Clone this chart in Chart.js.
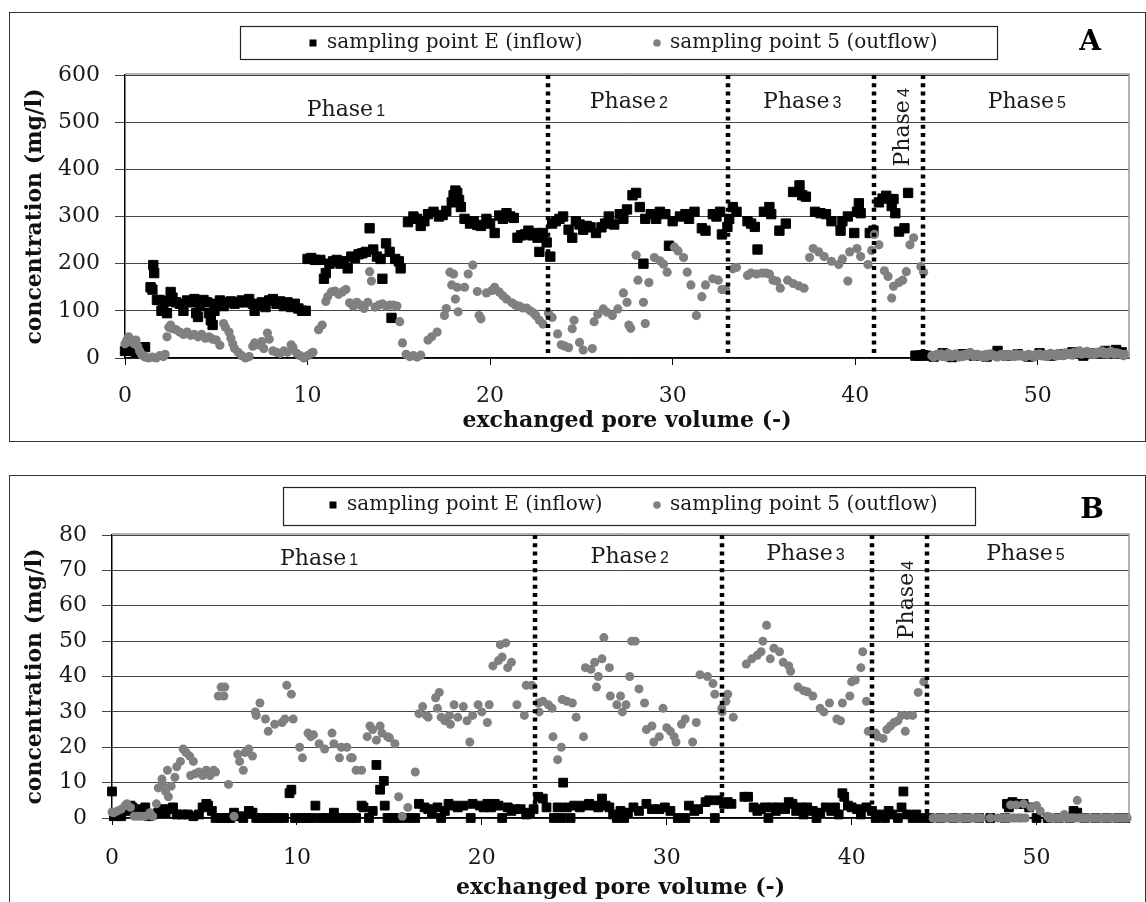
<!DOCTYPE html>
<html>
<head>
<meta charset="utf-8">
<script src="https://cdn.jsdelivr.net/npm/chart.js@4"></script>
<style>
body { margin: 0; background: #fff; }
.panel { position: absolute; left: 9px; width: 1135px; border: 1px solid #333; }
#pa { top: 12px; height: 428px; }
#pb { top: 475px; height: 432px; }
canvas { display: block; }
</style>
</head>
<body>
<div class="panel" id="pa"><canvas id="ca" width="1135" height="428"></canvas></div>
<div class="panel" id="pb"><canvas id="cb" width="1135" height="432"></canvas></div>
<script>
// series labels and phase names
const legendLabels = ['sampling point E (inflow)', 'sampling point 5 (outflow)'];
const phaseNums = ['1', '2', '3', '4', '5'];

// phase boundaries (exchanged pore volume)
const aPhaseEdges = [23.15, 33.06, 41.05, 43.73];
const bPhaseEdges = [22.86, 32.97, 41.08, 44.1];

// panel A concentrations (mg/l), [pore volume, value]
const aInflow = [
  [0.0,15],[0.1,20],[0.2,15],[0.4,18],[0.6,12],[1.1,23],[1.4,150],[1.5,145],[1.55,197],[1.6,180],[1.75,123],
  [1.9,123],[2.0,100],[2.1,110],[2.3,95],[2.4,120],[2.5,140],[2.6,128],[2.8,118],[3.0,115],[3.2,100],[3.4,122],
  [3.6,118],[3.8,125],[3.9,95],[4.0,87],[4.1,110],[4.3,123],[4.5,118],[4.6,95],[4.7,80],[4.8,70],[4.9,100],
  [5.0,115],[5.2,122],[5.4,110],[5.6,118],[5.8,120],[6.0,115],[6.2,118],[6.4,122],[6.6,118],[6.8,125],[7.0,115],
  [7.1,100],[7.3,112],[7.5,118],[7.7,108],[7.9,122],[8.1,125],[8.3,115],[8.5,120],[8.7,110],[8.9,118],[9.1,108],
  [9.3,115],[9.5,105],[9.7,100],[9.9,100],
  [10.0,210],[10.2,212],[10.4,208],[10.7,208],[10.9,168],[11.0,180],[11.2,200],[11.4,205],[11.6,208],[11.8,200],
  [12.0,205],[12.2,190],[12.4,215],[12.6,212],[12.8,220],[13.0,222],[13.2,225],[13.4,275],[13.6,230],[13.8,215],
  [14.0,210],[14.1,168],[14.3,243],[14.5,225],[14.6,85],[14.8,210],[15.0,205],[15.1,190],
  [15.5,288],[15.8,300],[16.0,295],[16.2,280],[16.4,290],[16.6,305],[16.9,310],[17.2,300],[17.4,303],[17.6,312],
  [17.9,330],[18.0,345],[18.1,355],[18.2,350],[18.3,335],[18.4,320],[18.6,295],[18.9,285],[19.1,290],[19.3,282],
  [19.5,280],[19.8,295],[20.0,285],[20.25,265],[20.5,302],[20.7,295],[20.9,307],[21.1,300],[21.3,297],[21.5,255],
  [21.7,260],[21.9,262],[22.1,270],[22.3,260],[22.5,265],[22.6,255],[22.7,225],[22.9,265],[23.1,245],[23.3,215],
  [23.4,285],[23.6,290],[23.8,295],[24.0,300],[24.3,272],[24.5,255],[24.7,290],[24.9,283],[25.1,272],[25.3,280],
  [25.5,277],[25.8,265],[26.1,277],[26.3,285],[26.5,300],[26.8,283],[27.1,305],[27.3,295],[27.5,315],[27.8,345],
  [28.0,350],[28.2,320],[28.4,200],[28.5,295],[28.8,305],[29.1,295],[29.3,310],[29.6,305],[29.8,238],[30.0,290],
  [30.4,300],[30.7,305],[30.9,295],[31.2,310],[31.6,275],[31.8,270],[32.2,305],[32.4,300],[32.6,310],[32.7,262],
  [33.0,278],[33.1,295],
  [33.3,320],[33.5,310],[34.1,290],[34.3,285],[34.5,278],[34.65,230],[35.0,310],[35.3,320],[35.4,305],[35.85,270],
  [36.2,285],[36.6,352],[36.95,366],[37.1,345],[37.3,342],[37.8,310],[38.1,307],[38.4,305],[38.7,290],[39.2,270],
  [39.3,290],[39.6,300],[39.95,265],[40.1,310],[40.2,328],[40.3,307],[40.8,265],[41.0,270],
  [41.3,330],[41.5,338],[41.7,344],[42.0,322],[42.1,337],[42.2,307],[42.4,268],[42.7,275],[42.9,350],
  [43.3,5],[43.5,5],[43.7,6],[43.9,5],[44.3,3],[44.8,10],[45.3,2],[45.9,8],[46.5,5],[47.2,3],[47.8,15],[48.3,5],
  [48.9,8],[49.5,3],[50.1,10],[50.7,5],[51.3,8],[51.9,12],[52.5,5],[53.1,10],[53.7,15],[54.3,17],[54.6,12]
];
const aOutflow = [
  [0.0,30],[0.1,38],[0.2,45],[0.3,40],[0.4,33],[0.5,30],[0.6,38],[0.7,25],[0.8,15],[0.9,8],[1.0,5],[1.1,2],
  [1.3,0],[1.5,2],[1.7,0],[1.9,5],[2.1,3],[2.2,8],
  [2.3,45],[2.4,65],[2.5,70],[2.6,62],[2.8,60],[3.0,55],[3.2,50],[3.4,55],[3.6,48],[3.8,50],[4.0,45],[4.2,50],
  [4.4,42],[4.6,45],[4.8,40],[5.0,38],[5.2,27],
  [5.4,73],[5.5,65],[5.7,55],[5.8,42],[5.9,30],[6.0,20],[6.2,12],[6.4,5],[6.6,0],[6.8,3],
  [7.0,25],[7.1,32],[7.3,28],[7.5,35],[7.6,20],[7.8,53],[7.9,40],
  [8.1,15],[8.3,12],[8.5,10],[8.7,15],[8.9,12],[9.1,28],[9.2,22],[9.4,10],[9.6,5],[9.8,0],[10.0,5],[10.2,10],
  [10.3,12],[10.6,60],[10.8,70],[11.0,120],[11.1,130],
  [11.3,140],[11.5,142],[11.7,135],[11.9,140],[12.1,145],[12.3,117],[12.5,110],[12.7,118],[12.9,112],[13.1,105],
  [13.3,118],[13.4,183],[13.5,163],[13.7,108],[13.9,112],[14.1,115],[14.3,110],[14.5,112],[14.7,112],[14.9,110],
  [15.05,77],[15.2,32],[15.4,8],[15.6,3],[15.8,5],[16.0,2],[16.2,6],[16.6,38],[16.8,45],[17.1,55],[17.5,90],
  [17.6,105],[17.8,182],[18.0,178],[17.9,155],[18.2,150],[18.1,125],[18.25,98],[18.6,150],[18.8,178],[19.05,197],
  [19.3,141],[19.4,90],[19.5,83],[19.8,138],[20.1,143],[20.25,150],[20.5,140],[20.7,132],[20.9,125],[21.2,117],
  [21.4,112],[21.6,110],[21.8,106],[22.0,106],[22.2,100],[22.4,95],[22.5,90],[22.7,80],[22.9,72],
  [23.2,95],[23.4,86],[23.7,51],[23.9,28],[24.1,25],[24.3,22],[24.5,62],[24.6,80],[24.9,33],[25.1,17],[25.6,20],
  [25.7,77],[25.9,93],[26.2,104],[26.4,97],[26.7,90],[27.0,104],[27.3,138],[27.5,118],[27.6,70],[27.7,63],
  [28.0,218],[28.1,165],[28.4,118],[28.5,73],[28.7,160],[29.0,213],[29.3,206],[29.5,199],[29.7,182],[30.1,235],
  [30.3,227],[30.6,213],[30.8,182],[31.0,155],[31.3,90],[31.6,130],[31.8,155],[32.2,168],[32.5,165],[32.7,145],
  [32.9,145],
  [33.3,189],[33.5,192],[34.1,175],[34.3,180],[34.6,178],[34.9,180],[35.1,180],[35.3,178],[35.5,165],[35.7,163],
  [35.9,148],[36.3,165],[36.6,158],[36.9,153],[37.2,148],[37.5,213],[37.7,232],[38.0,225],[38.3,215],[38.7,205],
  [39.1,198],[39.3,210],[39.6,163],[39.7,225],[40.1,232],[40.3,215],[40.7,198],[40.9,228],
  [41.05,262],[41.3,240],[41.6,185],[41.8,173],[42.0,127],[42.1,152],[42.4,160],[42.6,165],[42.8,183],[43.0,240],
  [43.2,255],[43.6,194],[43.75,182],
  [44.2,5],[44.3,2],[44.4,6],[44.5,8],[44.6,4],[44.7,9],[44.8,3],[44.9,6],[45.0,2],[45.1,10],[45.2,7],[45.3,3],
  [45.4,5],[45.5,9],[45.6,4],[45.7,2],[45.8,6],[45.9,3],[46.0,8],[46.1,5],[46.2,9],[46.3,12],[46.4,7],[46.5,3],
  [46.6,5],[46.7,8],[46.8,4],[46.9,3],[47.0,6],[47.1,2],[47.2,8],[47.3,4],[47.4,9],[47.5,5],[47.6,6],[47.7,3],
  [47.8,2],[47.9,5],[48.0,8],[48.1,6],[48.2,3],[48.3,5],[48.4,8],[48.5,4],[48.6,6],[48.7,3],[48.8,9],[48.9,4],
  [49.0,5],[49.1,7],[49.2,3],[49.3,2],[49.4,5],[49.5,8],[49.6,6],[49.7,4],[49.8,2],[49.9,8],[50.0,6],[50.1,9],
  [50.2,5],[50.3,4],[50.4,7],[50.5,3],[50.6,5],[50.7,10],[50.8,8],[50.9,6],[51.0,4],[51.1,10],[51.2,8],[51.3,6],
  [51.4,5],[51.5,11],[51.6,7],[51.7,8],[51.8,10],[51.9,6],[52.0,12],[52.1,9],[52.2,13],[52.3,15],[52.4,8],
  [52.5,12],[52.6,10],[52.7,14],[52.8,9],[52.9,8],[53.0,11],[53.1,7],[53.2,12],[53.3,10],[53.4,13],[53.5,15],
  [53.6,9],[53.7,12],[53.8,8],[53.9,10],[54.0,14],[54.1,12],[54.2,8],[54.3,11],[54.4,10],[54.5,9],[54.6,7],
  [54.7,5],[54.8,8]
];

// panel B concentrations (mg/l)
const bInflow = [
  [0,7.5],[0.1,0.5],[0.3,1],[0.5,0.5],[0.8,2],[1.0,3.5],[1.1,3],[1.3,1],[1.6,2.5],[1.8,3],[2.0,0.5],[2.2,1],
  [2.5,1.5],[2.7,2.5],[2.9,1.5],[3.1,2.5],[3.3,3],[3.5,1],[3.8,1],[4.1,1],[4.4,0.5],[4.7,1],[4.9,3],[5.1,4],
  [5.2,3.5],[5.4,2],[5.6,0],[5.9,0],[6.2,0],[6.4,0],[6.6,1.5],[6.9,0.5],[7.1,0],[7.4,2],[7.6,1.5],[7.8,0],
  [8.1,0],[8.4,0],[8.7,0],[9.0,0],[9.3,0],[9.6,7],[9.7,8],[9.9,0],[10.2,0],[10.5,0],[10.8,0],[11.0,3.5],
  [11.3,0],[11.6,0],[11.9,0],[12.0,1.5],[12.3,0],[12.6,0],[12.9,0],[13.2,0],[13.5,3.5],[13.6,3],[13.9,0],
  [14.1,2],[14.3,15],[14.5,8],[14.7,10.5],[14.75,3.5],[14.9,0],[15.2,0],[15.5,0],[16.0,0],
  [16.4,0],[16.6,4],[16.9,3],[17.1,2.5],[17.3,1.5],[17.6,3],[17.8,0],[18.0,2],[18.2,4],[18.5,3.5],[18.7,3],
  [19.0,3.5],[19.4,0],[19.5,4],[19.9,3.5],[20.1,3],[20.3,4],[20.5,3],[20.7,4],[20.9,3.5],[21.1,0],[21.4,3],
  [21.6,2],[21.8,2.5],[22.1,2.5],[22.4,1],[22.6,1.5],[22.8,2.5],
  [23.05,6],[23.3,5.5],[23.5,3],[23.9,0],[24.1,3],[24.3,0],[24.4,10],[24.6,3],[24.8,0],[25.0,3.5],[25.3,3],
  [25.5,3.5],[25.8,4],[26.0,3.5],[26.3,3],[26.5,5.5],[26.7,3.5],[26.9,3],[27.1,1],[27.3,0],[27.5,2],[27.7,0],
  [27.9,1.5],[28.2,3],[28.5,2],[28.9,4],[29.2,2.5],[29.6,2.5],[29.9,3],[30.2,2],[30.6,0],[31.0,0],[31.2,3.5],
  [31.5,2],[31.7,2.5],[32.1,4.5],[32.3,5],[32.6,0],[32.8,5],[33.1,4],[33.3,4.5],[33.5,4],
  [34.2,6],[34.4,6],[34.7,3],[34.9,2],[35.1,2.5],[35.3,3],[35.5,0],[35.7,3],[35.9,2],[36.1,3],[36.4,2.5],
  [36.6,4.5],[36.8,4],[37.0,2],[37.2,3],[37.4,1],[37.6,3],[37.9,2],[38.1,0],[38.3,1.5],[38.6,3],[38.9,2],
  [39.1,3],[39.3,1],[39.5,7],[39.6,6],[39.8,3.5],[40.0,3],[40.3,2.5],[40.5,1],[40.8,3],
  [41.1,2],[41.3,0],[41.5,1],[41.8,0],[42.0,2],[42.2,1],[42.5,0],[42.7,3],[42.8,7.5],[43.0,1],[43.3,0],
  [43.5,1],[43.8,0],
  [44.2,0],[44.8,0],[45.5,0],[46.2,0],[46.9,0],[47.5,0],[48.3,0],[48.4,4],[48.5,3],[48.7,4.5],[49.0,4],
  [49.3,4],[49.6,3],[50.0,0],[50.6,0],[51.2,0],[51.8,0],[52.0,2],[52.2,1.5],[52.6,0],[53.2,0],[53.8,0],
  [54.4,0],[54.8,0]
];
const bOutflow = [
  [0,1.7],[0.1,1.5],[0.3,2],[0.5,2.5],[0.7,3.5],[0.8,4],[1.0,3],[1.2,0.5],[1.4,0.5],[1.6,0.5],[1.8,0.5],
  [2.05,1.5],[2.2,0.5],[2.4,4],[2.5,8.5],[2.7,11],[2.75,9.5],[2.9,7.5],[3.0,13.5],[3.05,6],[3.2,9],[3.4,11.5],
  [3.5,14.5],[3.7,16],[3.85,19.5],[4.0,18.5],[4.2,17.5],[4.4,16],[4.25,12],[4.5,12.5],[4.7,13],[4.9,12],
  [5.1,13.5],[5.3,12],[5.5,13.5],[5.6,13],[5.75,34.5],[5.9,37],[6.1,37],[6.05,34.5],[6.3,9.5],[6.6,0.5],
  [6.8,18],[6.9,16],[7.1,13.5],[7.2,18.5],[7.4,19.5],[7.6,17.5],[7.75,30],[7.8,29],[8.0,32.5],[8.3,28],
  [8.45,24.5],[8.8,26.5],[9.2,27],[9.35,28],[9.45,37.5],[9.7,35],[9.8,28],[10.15,20],[10.3,17],[10.6,24],
  [10.75,23],[10.9,23.5],[11.2,21],[11.5,19.5],[11.9,24],[12.0,21],[12.3,17],[12.4,20],[12.7,20],[12.9,17],
  [13.0,17],[13.2,13.5],[13.5,13.5],[13.8,23],[13.95,26],[14.1,25],[14.3,22],[14.5,26],[14.6,24],[14.9,23],
  [15.0,22.7],[15.3,21],[15.5,6],[15.7,0.5],[16.0,3],[16.4,13],[16.6,29.5],[16.8,31.5],[17.0,29],[17.1,28.5],
  [17.5,34],[17.6,31],[17.7,35.5],[17.8,28.5],[18.0,27.5],[18.25,29],[18.3,26.5],[18.5,32],[18.7,28.5],
  [19.0,31.5],[19.2,27.5],[19.35,21.5],[19.5,29],[19.8,32],[20.0,30],[20.3,27],[20.4,32],[20.6,43],[20.9,44.5],
  [21.0,49],[21.1,45.5],[21.3,49.5],[21.4,42.5],[21.6,44],[21.9,32],[22.3,29],[22.4,37.5],[22.7,37.5],
  [23.05,32.5],[23.1,30],[23.3,33],[23.6,32],[23.8,31],[23.85,23],[24.1,16.5],[24.3,20],[24.35,33.5],[24.6,33],
  [24.9,32.5],[25.1,28.5],[25.5,23],[25.6,42.5],[25.9,42],[26.1,44],[26.2,37],[26.3,40],[26.5,45],[26.6,51],
  [26.9,42.5],[26.95,34.5],[27.3,32],[27.5,34.5],[27.6,30],[27.8,32],[28.0,40],[28.1,50],[28.3,50],[28.5,36.5],
  [28.8,32.5],[28.9,25],[29.2,26],[29.3,21.5],[29.6,23],[29.8,31],[30.0,25.5],[30.2,24.5],[30.4,23],[30.5,21.5],
  [30.8,26.5],[31.0,28],[31.4,21.5],[31.6,27],[31.8,40.5],[32.2,40],[32.5,38],[32.6,35],[32.97,31],[33.0,30],
  [33.2,33],[33.3,35],[33.6,28.5],
  [34.3,43.5],[34.6,45],[34.9,46],[35.1,47],[35.4,54.5],[35.2,50],[35.6,45],[35.8,48],[36.1,47],[36.3,44],
  [36.6,43],[36.7,41.5],[37.1,37],[37.4,36],[37.6,35.7],[37.9,34.5],[38.3,31],[38.5,30],[38.8,32.5],[39.2,28],
  [39.4,27.5],[39.5,32.5],[39.9,34.5],[40.0,38.5],[40.2,39],[40.5,42.5],[40.6,47],[40.8,33],[40.9,24.5],
  [41.3,24],[41.4,23],[41.7,22.5],[41.9,25],[42.1,26],[42.3,27],[42.5,27.5],[42.7,29],[42.9,24.5],[43.0,29],
  [43.3,29],[43.6,35.5],[43.9,38.5],
  [44.4,0],[44.5,0],[44.6,0],[44.7,0],[44.8,0],[44.9,0],[45.0,0],[45.1,0],[45.2,0],[45.3,0],[45.4,0],[45.5,0],
  [45.6,0],[45.7,0],[45.8,0],[45.9,0],[46.0,0],[46.1,0],[46.2,0],[46.3,0],[46.4,0],[46.5,0],[46.6,0],[46.7,0],
  [46.8,0],[46.9,0],[47.0,0],[47.5,0],[47.9,0],[48.1,0],[48.2,0],[48.3,0],[48.4,0],[48.5,0],[48.6,3.7],
  [48.7,0],[48.8,0],[48.9,3.7],[49.0,0],[49.1,0],[49.2,0],[49.3,4],[49.4,0],[49.7,3],[50.0,3.5],[50.2,2],
  [50.6,0.5],[50.7,0],[50.8,0],[50.9,0],[51.0,0],[51.1,0],[51.2,0],[51.3,0],[51.4,0],[51.5,1],[51.6,0],
  [51.7,0],[51.8,0],[51.9,0],[52.0,0],[52.1,0],[52.2,5],[52.3,0],[52.4,0],[52.5,0],[52.6,0],[52.7,0],
  [52.8,0],[52.9,0],[53.0,0],[53.1,0],[53.2,0],[53.3,0],[53.4,0],[53.5,0],[53.6,0],[53.7,0],[53.8,0],
  [53.9,0],[54.0,0],[54.1,0],[54.2,0],[54.3,0],[54.4,0],[54.5,0],[54.6,0],[54.7,0],[54.8,0],[54.9,0]
];

const SERIF = '"DejaVu Serif", serif';
Chart.defaults.font.family = SERIF;
Chart.defaults.color = '#1a1a1a';

// draws plot frame, phase separators, phase labels, boxed legend and panel letter
const decor = {
  id: 'decor',
  afterDatasetsDraw(chart, args, o) {
    const {ctx, chartArea: a, scales: {x, y}} = chart;
    ctx.save();
    ctx.strokeStyle = '#9a9a9a';
    ctx.lineWidth = 1.5;
    ctx.beginPath();
    ctx.moveTo(a.left, a.top - 1);
    ctx.lineTo(a.right, a.top - 1);
    ctx.lineTo(a.right, a.bottom);
    ctx.stroke();

    ctx.strokeStyle = '#000';
    ctx.lineWidth = 4.5;
    ctx.setLineDash([4, 4.3]);
    o.edges.forEach(v => {
      const px = Math.round(x.getPixelForValue(v));
      ctx.beginPath();
      ctx.moveTo(px, a.top);
      ctx.lineTo(px, a.bottom);
      ctx.stroke();
    });
    ctx.setLineDash([]);

    ctx.fillStyle = '#1a1a1a';
    ctx.textAlign = 'left';
    ctx.textBaseline = 'alphabetic';
    o.labels.forEach(l => {
      const px = x.getPixelForValue(l.x), py = y.getPixelForValue(l.y);
      ctx.save();
      ctx.translate(px, py);
      if (l.rot) ctx.rotate(-Math.PI / 2);
      ctx.font = '22px ' + SERIF;
      const w1 = ctx.measureText('Phase').width;
      ctx.font = '16px "Liberation Sans"';
      const w2 = ctx.measureText(l.n).width;
      const start = -(w1 + 3 + w2) / 2;
      ctx.font = '22px ' + SERIF;
      ctx.fillText('Phase', start, 8);
      ctx.font = '16px "Liberation Sans"';
      ctx.fillText(l.n, start + w1 + 3, 8);
      ctx.restore();
    });
    ctx.restore();
  },
  afterDraw(chart, args, o) {
    const {ctx} = chart;
    const L = o.legend;
    const ds = chart.data.datasets;
    ctx.save();
    ctx.strokeStyle = '#222';
    ctx.lineWidth = 1.2;
    ctx.strokeRect(L.x + 0.5, L.y + 0.5, L.w, L.h);
    ctx.fillStyle = ds[0].backgroundColor;
    ctx.fillRect(L.m1 - 3.5, L.cy - 3.5, 7, 7);
    ctx.fillStyle = ds[1].backgroundColor;
    ctx.beginPath();
    ctx.arc(L.m2, L.cy, 3.8, 0, Math.PI * 2);
    ctx.fill();
    ctx.fillStyle = '#1a1a1a';
    ctx.font = '20px ' + SERIF;
    ctx.textBaseline = 'middle';
    ctx.textAlign = 'left';
    ctx.fillText(ds[0].label, L.t1, L.cy);
    ctx.fillText(ds[1].label, L.t2, L.cy);
    ctx.font = 'bold 28px ' + SERIF;
    ctx.textAlign = 'center';
    ctx.fillStyle = '#000';
    ctx.fillText(o.letter.text, o.letter.x, o.letter.y);
    ctx.restore();
  }
};

function makePanel(id, c) {
  return new Chart(document.getElementById(id), {
    type: 'scatter',
    data: {
      datasets: [
        { label: legendLabels[0], data: c.inflow.map(p => ({x: p[0], y: p[1]})), pointStyle: 'rect',
          pointRadius: c.rectR, backgroundColor: '#000', borderColor: '#000', borderWidth: 1, order: 2, clip: false },
        { label: legendLabels[1], data: c.outflow.map(p => ({x: p[0], y: p[1]})), pointStyle: 'circle',
          pointRadius: c.dotR, backgroundColor: '#808080', borderColor: '#808080', borderWidth: 0, order: 1, clip: false }
      ]
    },
    options: {
      responsive: false,
      animation: false,
      devicePixelRatio: 1,
      events: [],
      layout: { padding: { top: c.padTop, right: 16, left: 0, bottom: 0 } },
      plugins: { legend: { display: false }, tooltip: { enabled: false }, decor: c.decor },
      scales: {
        x: {
          type: 'linear', min: 0, max: 55,
          afterFit: s => { s.height = c.xH; },
          ticks: { stepSize: 10, includeBounds: false, padding: c.xPad, color: '#1a1a1a', font: { size: 22 } },
          grid: { drawOnChartArea: false, drawTicks: true, tickLength: 7, color: '#000', lineWidth: 1 },
          border: { color: '#000', width: 1.5 },
          title: { display: true, text: 'exchanged pore volume (-)', color: '#111',
                   font: { size: 22, weight: 'bold' }, padding: { top: 0, bottom: 7 } }
        },
        y: {
          min: 0, max: c.yMax,
          afterFit: s => { s.width = c.yW; },
          ticks: { stepSize: c.yStep, padding: 15, color: '#1a1a1a', font: { size: 22 } },
          grid: { color: '#444', lineWidth: 1, drawTicks: true, tickLength: 10 },
          border: { color: '#000', width: 1.5 },
          title: { display: true, text: 'concentration (mg/l)', color: '#111',
                   font: { size: 22, weight: 'bold' }, padding: { top: 12, bottom: 0 } }
        }
      }
    },
    plugins: [decor]
  });
}

makePanel('ca', {
  inflow: aInflow, outflow: aOutflow, rectR: 6.6, dotR: 4.6,
  padTop: 62, xH: 83, yW: 115, xPad: 18, yMax: 600, yStep: 100,
  decor: {
    edges: aPhaseEdges,
    labels: [
      {x: 12.1, y: 530, n: phaseNums[0]}, {x: 27.6, y: 547, n: phaseNums[1]},
      {x: 37.1, y: 547, n: phaseNums[2]}, {x: 42.5, y: 489, n: phaseNums[3], rot: true},
      {x: 49.4, y: 547, n: phaseNums[4]}
    ],
    legend: {x: 230, y: 13, w: 757, h: 33, cy: 30, m1: 303, t1: 317, m2: 647, t2: 660},
    letter: {text: 'A', x: 1080, y: 30}
  }
});

makePanel('cb', {
  inflow: bInflow, outflow: bOutflow, rectR: 6.2, dotR: 4.5,
  padTop: 59, xH: 90, yW: 102, xPad: 20, yMax: 80, yStep: 10,
  decor: {
    edges: bPhaseEdges,
    labels: [
      {x: 11.2, y: 73.8, n: phaseNums[0]}, {x: 28.0, y: 74.3, n: phaseNums[1]},
      {x: 37.5, y: 75.2, n: phaseNums[2]}, {x: 42.9, y: 61.6, n: phaseNums[3], rot: true},
      {x: 49.4, y: 75.2, n: phaseNums[4]}
    ],
    legend: {x: 273, y: 11, w: 692, h: 38, cy: 29, m1: 323, t1: 337, m2: 647, t2: 660},
    letter: {text: 'B', x: 1082, y: 35}
  }
});
</script>
</body>
</html>
